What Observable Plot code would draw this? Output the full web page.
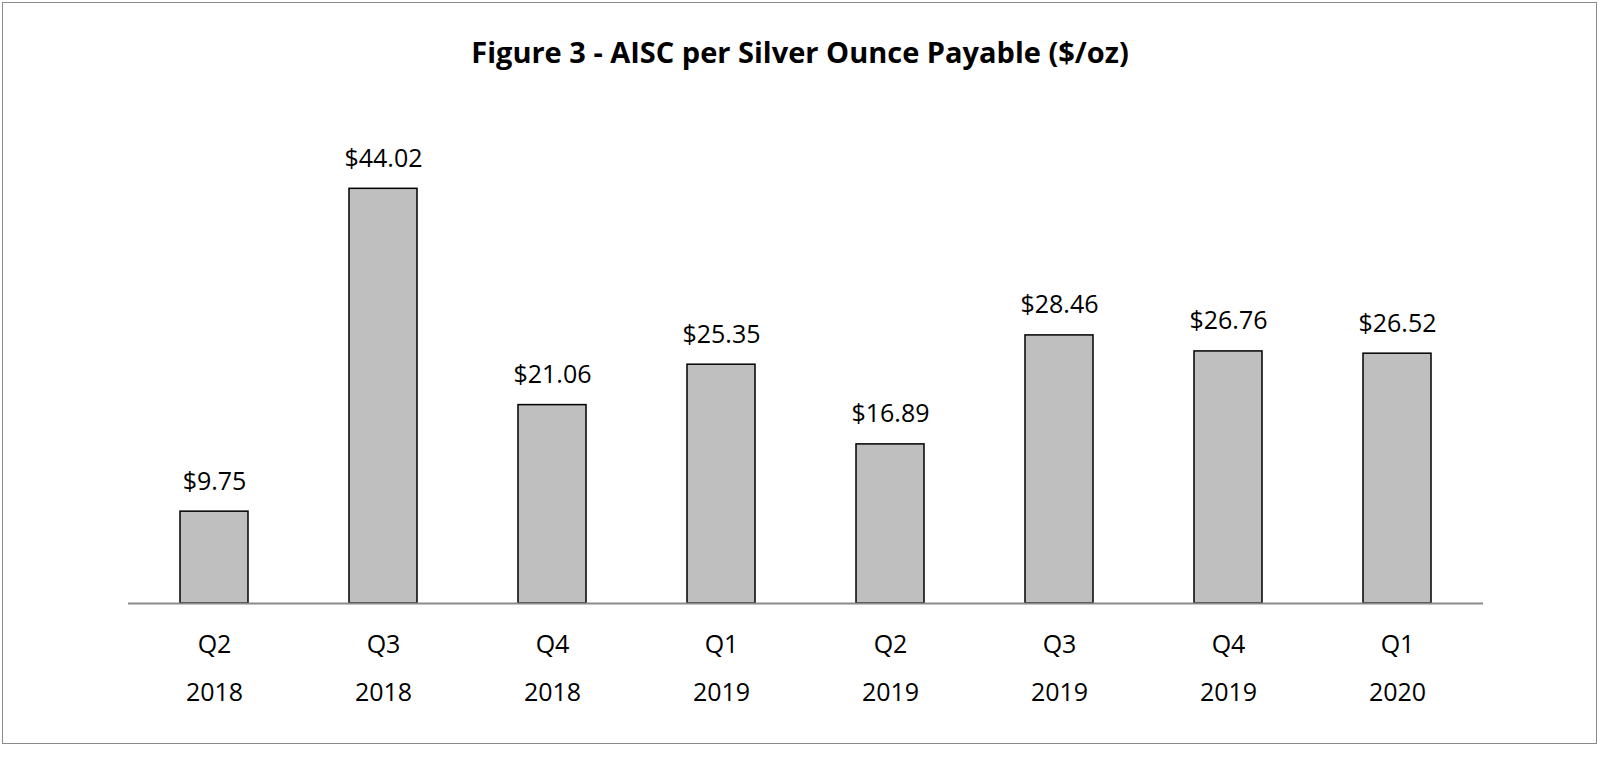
<!DOCTYPE html>
<html><head><meta charset="utf-8">
<script src="https://cdn.jsdelivr.net/npm/d3@7"></script>
<script src="https://cdn.jsdelivr.net/npm/@observablehq/plot@0.6"></script>
<style>
body{margin:0;background:#fff;font-family:"Open Sans",sans-serif;}
#frame{position:absolute;left:2px;top:2px;width:1593px;height:740px;border:1.5px solid #8a8a8a;}
#title{position:absolute;left:0;top:32px;width:1600px;text-align:center;font-weight:bold;font-size:29px;color:#000;}
#chart{position:absolute;left:0;top:100px;}
</style></head><body>
<div id="frame"></div>
<div id="title">Figure 3 - AISC per Silver Ounce Payable ($/oz)</div>
<div id="chart"></div>
<script>
const quarters = ["Q2\n2018","Q3\n2018","Q4\n2018","Q1\n2019","Q2\n2019","Q3\n2019","Q4\n2019","Q1\n2020"];
const values = [9.75,44.02,21.06,25.35,16.89,28.46,26.76,26.52];
const data = quarters.map((q,i)=>({q, v: values[i]}));
const chart = Plot.plot({
  width:1600, height:658,
  marginLeft:128, marginRight:117, marginTop:32, marginBottom:155,
  x:{domain:quarters, paddingInner:0.6, paddingOuter:0.3, axis:null},
  y:{domain:[0,50], axis:null},
  style:{fontFamily:"Open Sans, sans-serif", color:"#000"},
  marks:[
    Plot.barY(data,{x:"q", y:"v", fill:"#bfbfbf", stroke:"#000", strokeWidth:1.5}),
    Plot.ruleY([0],{stroke:"#8a8a8a", strokeWidth:2}),
    Plot.text(data,{x:"q", y:"v", text:d=>"$"+d.v.toFixed(2), dy:-30, fontSize:25, fill:"#000"}),
    Plot.text(data,{x:"q", y:0, text:"q", dy:58, fontSize:25, lineHeight:1.95, fill:"#000"})
  ]
});
document.getElementById("chart").append(chart);
</script>
</body></html>
